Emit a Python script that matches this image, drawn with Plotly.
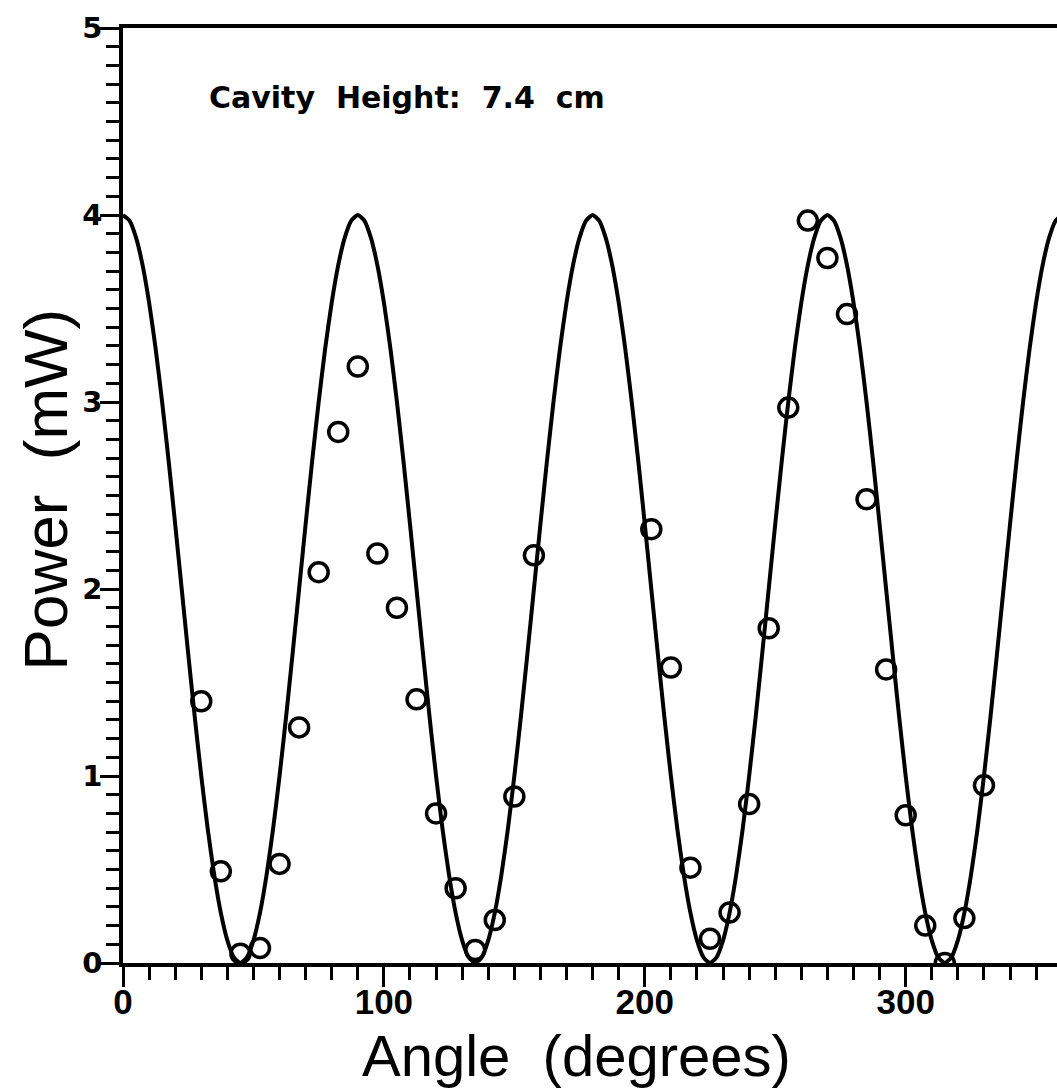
import plotly.graph_objects as go

# Measured data points (angle in degrees, power in mW)
angle_pts = [30, 37.5, 45, 52.5, 60, 67.5, 75, 82.5, 90, 97.5, 105, 112.5, 120,
             127.5, 135, 142.5, 150, 157.5,
             202.5, 210, 217.5, 225, 232.5, 240, 247.5, 255, 262.5, 270, 277.5,
             285, 292.5, 300, 307.5, 315, 322.5, 330]
power_pts = [1.40, 0.49, 0.05, 0.08, 0.53, 1.26, 2.09, 2.84, 3.19, 2.19, 1.90, 1.41, 0.80,
             0.40, 0.07, 0.23, 0.89, 2.18,
             2.32, 1.58, 0.51, 0.13, 0.27, 0.85, 1.79, 2.97, 3.97, 3.77, 3.47,
             2.48, 1.57, 0.79, 0.20, 0.00, 0.24, 0.95]

# Fitted curve, every 2.5 degrees
curve_angle = [0, 2.5, 5, 7.5, 10, 12.5, 15, 17.5, 20, 22.5, 25, 27.5, 30, 32.5, 35, 37.5, 40, 42.5,
               45, 47.5, 50, 52.5, 55, 57.5, 60, 62.5, 65, 67.5, 70, 72.5, 75, 77.5, 80, 82.5, 85, 87.5,
               90, 92.5, 95, 97.5, 100, 102.5, 105, 107.5, 110, 112.5, 115, 117.5, 120, 122.5, 125, 127.5, 130, 132.5,
               135, 137.5, 140, 142.5, 145, 147.5, 150, 152.5, 155, 157.5, 160, 162.5, 165, 167.5, 170, 172.5, 175, 177.5,
               180, 182.5, 185, 187.5, 190, 192.5, 195, 197.5, 200, 202.5, 205, 207.5, 210, 212.5, 215, 217.5, 220, 222.5,
               225, 227.5, 230, 232.5, 235, 237.5, 240, 242.5, 245, 247.5, 250, 252.5, 255, 257.5, 260, 262.5, 265, 267.5,
               270, 272.5, 275, 277.5, 280, 282.5, 285, 287.5, 290, 292.5, 295, 297.5, 300, 302.5, 305, 307.5, 310, 312.5,
               315, 317.5, 320, 322.5, 325, 327.5, 330, 332.5, 335, 337.5, 340, 342.5, 345, 347.5, 350, 352.5, 355, 357.5,
               360]
curve_power = [4.000, 3.970, 3.879, 3.732, 3.532, 3.286, 3.000, 2.684, 2.347, 2.000, 1.653, 1.316, 1.000, 0.714, 0.468, 0.268, 0.121, 0.030,
               0.000, 0.030, 0.121, 0.268, 0.468, 0.714, 1.000, 1.316, 1.653, 2.000, 2.347, 2.684, 3.000, 3.286, 3.532, 3.732, 3.879, 3.970,
               4.000, 3.970, 3.879, 3.732, 3.532, 3.286, 3.000, 2.684, 2.347, 2.000, 1.653, 1.316, 1.000, 0.714, 0.468, 0.268, 0.121, 0.030,
               0.000, 0.030, 0.121, 0.268, 0.468, 0.714, 1.000, 1.316, 1.653, 2.000, 2.347, 2.684, 3.000, 3.286, 3.532, 3.732, 3.879, 3.970,
               4.000, 3.970, 3.879, 3.732, 3.532, 3.286, 3.000, 2.684, 2.347, 2.000, 1.653, 1.316, 1.000, 0.714, 0.468, 0.268, 0.121, 0.030,
               0.000, 0.030, 0.121, 0.268, 0.468, 0.714, 1.000, 1.316, 1.653, 2.000, 2.347, 2.684, 3.000, 3.286, 3.532, 3.732, 3.879, 3.970,
               4.000, 3.970, 3.879, 3.732, 3.532, 3.286, 3.000, 2.684, 2.347, 2.000, 1.653, 1.316, 1.000, 0.714, 0.468, 0.268, 0.121, 0.030,
               0.000, 0.030, 0.121, 0.268, 0.468, 0.714, 1.000, 1.316, 1.653, 2.000, 2.347, 2.684, 3.000, 3.286, 3.532, 3.732, 3.879, 3.970,
               4.000]

x_ticks = [0, 100, 200, 300]
y_ticks = [0, 1, 2, 3, 4, 5]

fig = go.Figure()
fig.add_trace(go.Scatter(x=curve_angle, y=curve_power, mode="lines",
                         line=dict(color="black", width=4, shape="spline", smoothing=0.6),
                         showlegend=False, hoverinfo="skip"))
fig.add_trace(go.Scatter(x=angle_pts, y=power_pts, mode="markers",
                         marker=dict(symbol="circle-open", size=19, color="black",
                                     line=dict(color="black", width=3.5)),
                         showlegend=False))

fig.update_layout(
    width=1057, height=1088,
    margin=dict(l=123, r=0, t=28, b=125),
    paper_bgcolor="white", plot_bgcolor="white",
    xaxis=dict(range=[0, 358], tickvals=x_ticks, ticktext=[f"<b>{v}</b>" for v in x_ticks],
               ticks="outside", ticklen=20, tickwidth=3, tickcolor="black",
               minor=dict(dtick=10, ticks="outside", ticklen=13, tickwidth=3, tickcolor="black"),
               showline=True, linewidth=3.5, linecolor="black", mirror=True,
               showgrid=False, zeroline=False, ticklabelstandoff=-15,
               tickfont=dict(family="Liberation Sans", size=35, color="black")),
    yaxis=dict(range=[0, 5], tickvals=y_ticks, ticktext=[f"<b>{v}</b>" for v in y_ticks],
               ticks="outside", ticklen=19, tickwidth=3, tickcolor="black",
               minor=dict(dtick=0.1, ticks="outside", ticklen=13, tickwidth=3, tickcolor="black"),
               showline=True, linewidth=3.5, linecolor="black",
               showgrid=False, zeroline=False, ticklabelstandoff=-8,
               tickfont=dict(family="DejaVu Sans", size=29, color="black")),
    annotations=[
        dict(text="<b>Cavity  Height:  7.4  cm</b>", x=32.2, y=4.63, xref="x", yref="y",
             xanchor="left", yanchor="middle", showarrow=False,
             font=dict(family="DejaVu Sans", size=30, color="black")),
        dict(text="Angle  (degrees)", x=0.486, y=-0.0984, xref="paper", yref="paper",
             xanchor="center", yanchor="middle", showarrow=False,
             font=dict(family="Liberation Sans", size=58, color="black")),
        dict(text="Power  (mW)", x=-0.083, y=0.507, xref="paper", yref="paper",
             xanchor="center", yanchor="middle", showarrow=False, textangle=-90,
             font=dict(family="Liberation Sans", size=62, color="black")),
    ],
)

fig.write_html("out.html")
